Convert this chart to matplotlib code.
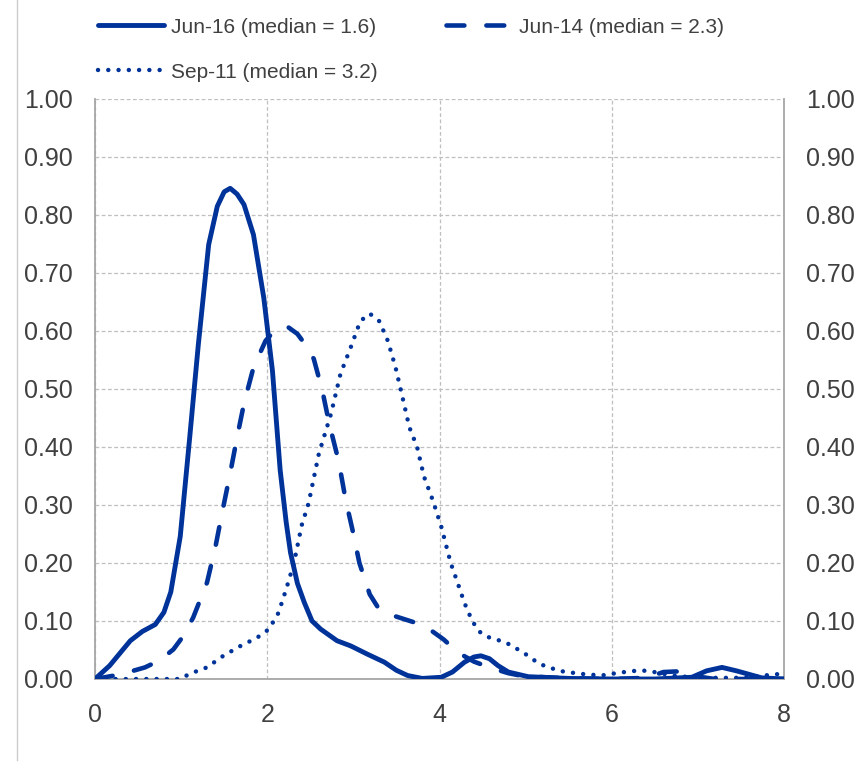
import matplotlib
matplotlib.use("Agg")
import matplotlib.pyplot as plt
from matplotlib.lines import Line2D

# ---------------- data ----------------
jun16_x = [0, 0.17, 0.41, 0.55, 0.70, 0.80, 0.88, 0.99, 1.10, 1.20, 1.32, 1.42, 1.50, 1.57,
           1.65, 1.73, 1.84, 1.96, 2.06, 2.15, 2.22, 2.27, 2.35, 2.43, 2.52, 2.62, 2.81,
           2.97, 3.16, 3.36, 3.50, 3.63, 3.80, 4.02, 4.15, 4.29, 4.40, 4.48, 4.58, 4.68,
           4.80, 5.03, 5.5, 6.0, 6.5, 6.93, 7.1, 7.28, 7.45, 7.74, 8.0]
jun16_y = [0, 0.023, 0.066, 0.082, 0.094, 0.115, 0.150, 0.246, 0.417, 0.577, 0.749, 0.815,
           0.840, 0.846, 0.836, 0.818, 0.766, 0.657, 0.532, 0.360, 0.270, 0.218, 0.165,
           0.132, 0.100, 0.086, 0.066, 0.057, 0.043, 0.029, 0.015, 0.006, 0.001, 0.003,
           0.012, 0.029, 0.038, 0.040, 0.035, 0.023, 0.012, 0.004, 0.001, 0.0, 0.0, 0.003,
           0.014, 0.020, 0.014, 0.002, 0.0]

jun14_x = [0, 0.3, 0.58, 0.75, 0.91, 1.03, 1.14, 1.30, 1.40, 1.475, 1.57, 1.65, 1.73, 1.84,
           1.98, 2.08, 2.23, 2.35, 2.45, 2.54, 2.64, 2.72, 2.83, 2.91, 2.99, 3.07, 3.19,
           3.30, 3.49, 3.70, 3.90, 4.05, 4.21, 4.40, 4.58, 4.80, 4.97, 5.5, 6.0, 6.4, 6.6,
           6.75, 6.9, 7.2, 8.0]
jun14_y = [0, 0.008, 0.020, 0.032, 0.051, 0.075, 0.106, 0.166, 0.229, 0.286, 0.355, 0.417,
           0.475, 0.537, 0.583, 0.600, 0.608, 0.595, 0.575, 0.552, 0.497, 0.440, 0.375,
           0.309, 0.257, 0.200, 0.146, 0.120, 0.108, 0.098, 0.084, 0.068, 0.046, 0.030,
           0.020, 0.010, 0.005, 0.001, 0.0, 0.002, 0.012, 0.013, 0.006, 0.0, 0.0]

sep11_x = [0, 0.99, 1.10, 1.30, 1.49, 1.69, 1.88, 2.02, 2.13, 2.22, 2.31, 2.40, 2.48, 2.60,
           2.74, 2.85, 2.97, 3.08, 3.19, 3.30, 3.40, 3.49, 3.57, 3.65, 3.74, 3.82, 3.92,
           4.02, 4.13, 4.21, 4.29, 4.38, 4.46, 4.55, 4.77, 4.97, 5.16, 5.39, 5.63, 5.88,
           6.09, 6.33, 6.46, 6.7, 7.0, 7.5, 7.97, 8.0]
sep11_y = [0, 0.000, 0.009, 0.020, 0.040, 0.057, 0.071, 0.086, 0.114, 0.155, 0.200, 0.265,
           0.303, 0.389, 0.457, 0.526, 0.572, 0.617, 0.630, 0.617, 0.583, 0.537, 0.486,
           0.434, 0.400, 0.349, 0.309, 0.263, 0.200, 0.166, 0.131, 0.100, 0.082, 0.073,
           0.063, 0.046, 0.026, 0.014, 0.009, 0.006, 0.011, 0.015, 0.013, 0.006, 0.002,
           0.002, 0.009, 0.009]

labels = ["Jun-16 (median = 1.6)", "Jun-14 (median = 2.3)", "Sep-11 (median = 3.2)"]
y_ticks = [0.0, 0.1, 0.2, 0.3, 0.4, 0.5, 0.6, 0.7, 0.8, 0.9, 1.0]
x_ticks = [0, 2, 4, 6, 8]

# ---------------- style ----------------
plt.rcParams['font.family'] = ['Liberation Sans', 'DejaVu Sans']
blue = '#003399'
grey_txt = '#404040'
spine_c = '#a6a6a6'

fig = plt.figure(figsize=(8.65, 7.63), dpi=100)
ax = fig.add_axes([95/865, 1 - 679/763, (784-95)/865, (679-99)/763])

l1, = ax.plot(jun16_x, jun16_y, color=blue, lw=3.5, solid_capstyle='round',
              solid_joinstyle='round', label=labels[0], zorder=4)
l2, = ax.plot(jun14_x, jun14_y, color=blue, lw=3.3, dash_capstyle='round',
              label=labels[1], zorder=3)
l2.set_dashes((3.9, 4.8))
l3, = ax.plot(sep11_x, sep11_y, color=blue, lw=3.2, dash_capstyle='round',
              label=labels[2], zorder=3)
l3.set_dashes((0.01, 2.3))

ax.set_xlim(0, 8)
ax.set_ylim(0, 1.0)
ax.set_xticks(x_ticks)
ax.set_yticks(y_ticks)
ax.set_xticklabels([str(v) for v in x_ticks])
ax.set_yticklabels([f"{v:.2f}" for v in y_ticks])
ax.tick_params(axis='both', labelsize=18, colors=grey_txt, length=0)
ax.tick_params(axis='y', labelright=True, right=False, pad=16)
ax.tick_params(axis='x', pad=17)

ax.grid(True, color='#bfbfbf', linestyle=(0, (3, 2)), linewidth=0.9)
ax.set_axisbelow(True)
for s in ['left', 'right', 'bottom']:
    ax.spines[s].set_color(spine_c)
    ax.spines[s].set_linewidth(1.3)
ax.spines['top'].set_visible(False)

handles = [l1, l3, l2]
leg = fig.legend(handles, [h.get_label() for h in handles], ncol=2,
                 loc='upper left', bbox_to_anchor=(79/865, 1 + 1/763),
                 frameon=False, fontsize=15, handlelength=3.2, handletextpad=0.3,
                 columnspacing=3.3, labelspacing=1.25, labelcolor=grey_txt)

fig.add_artist(Line2D([17/865, 17/865], [1 - 760/763, 1], transform=fig.transFigure,
                      color='#cccccc', lw=1.0))

fig.savefig('out.png', dpi=100)
